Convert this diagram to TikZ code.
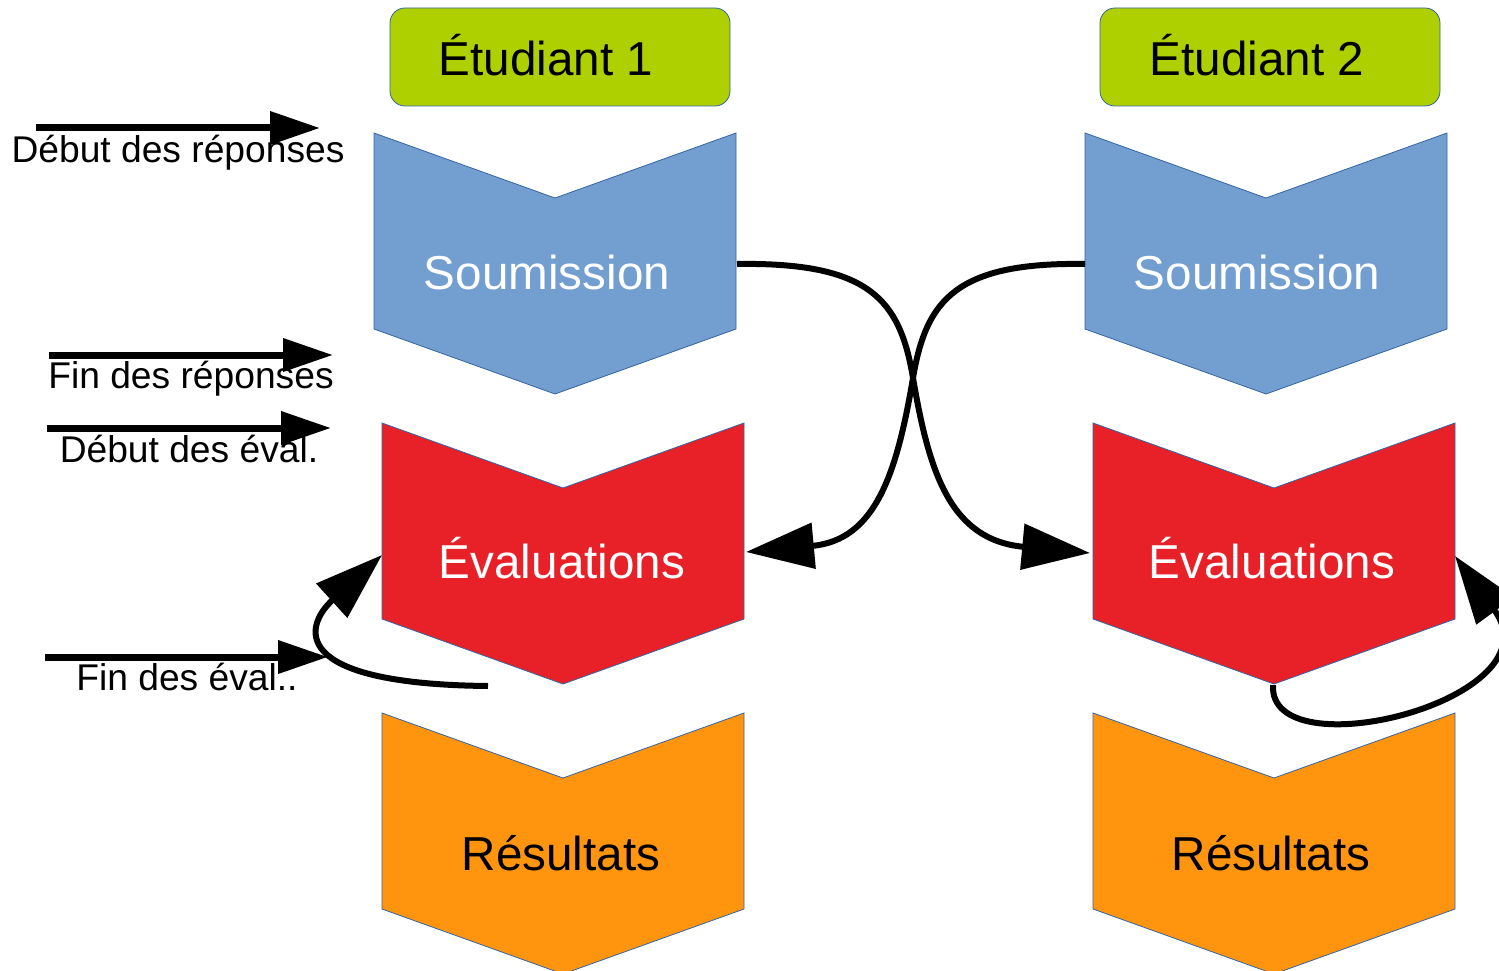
\documentclass[tikz,border=0pt]{standalone}
\usepackage{fontspec}
\setmainfont{Liberation Sans}
\usetikzlibrary{arrows.meta}
\definecolor{etudgreen}{RGB}{175,208,0}
\definecolor{soumblue}{RGB}{114,159,207}
\definecolor{evalred}{RGB}{232,32,40}
\definecolor{resorange}{RGB}{255,149,14}
\definecolor{edgeblue}{RGB}{52,101,164}
\begin{document}
\begin{tikzpicture}[x=1pt,y=-1pt,
    chev/.style={draw=edgeblue,line width=0.8pt},
    etudbox/.style={fill=etudgreen,draw=edgeblue,line width=0.8pt,rounded corners=15pt},
    bigtxt/.style={anchor=base,font=\fontsize{47.6}{56}\selectfont},
    sidetxt/.style={anchor=base,font=\fontsize{37.2}{44}\selectfont},
    timeline/.style={line width=7pt,-{Triangle[length=50pt,width=32pt]}},
    flow/.style={line width=6pt,-{Triangle[length=68pt,width=45pt]}}]
  \useasboundingbox (0,0) rectangle (1499,971);
  \filldraw[etudbox] (390,8) rectangle (730,106);
  \filldraw[etudbox] (1100,8) rectangle (1440,106);
  \filldraw[chev,fill=soumblue] (374,133) -- ++(181,65) -- ++(181,-65) -- ++(0,196) -- ++(-181,65) -- ++(-181,-65) -- cycle;
  \filldraw[chev,fill=evalred] (382,423) -- ++(181,65) -- ++(181,-65) -- ++(0,196) -- ++(-181,65) -- ++(-181,-65) -- cycle;
  \filldraw[chev,fill=resorange] (382,713) -- ++(181,65) -- ++(181,-65) -- ++(0,196) -- ++(-181,65) -- ++(-181,-65) -- cycle;
  \filldraw[chev,fill=soumblue] (1085,133) -- ++(181,65) -- ++(181,-65) -- ++(0,196) -- ++(-181,65) -- ++(-181,-65) -- cycle;
  \filldraw[chev,fill=evalred] (1093,423) -- ++(181,65) -- ++(181,-65) -- ++(0,196) -- ++(-181,65) -- ++(-181,-65) -- cycle;
  \filldraw[chev,fill=resorange] (1093,713) -- ++(181,65) -- ++(181,-65) -- ++(0,196) -- ++(-181,65) -- ++(-181,-65) -- cycle;
  \node[bigtxt] (et1) at (546,76) {Étudiant 1};
  \node[bigtxt] (et2) at (1257,76) {Étudiant 2};
  \node[bigtxt,white] (soum1) at (547,289) {Soumission};
  \node[bigtxt,white] (soum2) at (1257,289) {Soumission};
  \node[bigtxt,white] (eval1) at (562,578) {Évaluations};
  \node[bigtxt,white] (eval2) at (1272,578) {Évaluations};
  \node[bigtxt] (res1) at (561,870) {Résultats};
  \node[bigtxt] (res2) at (1271,870) {Résultats};
  \node[sidetxt] (debrep) at (178,163) {Début des réponses};
  \node[sidetxt] (finrep) at (191,388) {Fin des réponses};
  \node[sidetxt] (debeval) at (189,462) {Début des éval.};
  \node[sidetxt] (fineval) at (187,690) {Fin des éval..};
  \coordinate (t1a) at (36,128);
  \coordinate (t1b) at (320,128);
  \coordinate (t2a) at (49,355);
  \coordinate (t2b) at (333,355);
  \coordinate (t3a) at (47,428);
  \coordinate (t3b) at (331,428);
  \coordinate (t4a) at (45,657);
  \coordinate (t4b) at (328,657);
  \coordinate (s1r) at (737,264);
  \coordinate (s2l) at (1085,264);
  \coordinate (e1r) at (746,552);
  \coordinate (e2l) at (1090,553);
  \coordinate (e1l) at (382,555);
  \coordinate (e2r) at (1455,556);
  \coordinate (e2b) at (1273,685);
  \coordinate (loop1) at (488,686);
  \draw[timeline] (t1a) -- (t1b);
  \draw[timeline] (t2a) -- (t2b);
  \draw[timeline] (t3a) -- (t3b);
  \draw[timeline] (t4a) -- (t4b);
  \draw[flow] (s1r) .. controls (870,262) and (900,300) .. (913,378) .. controls (929,472) and (950,540) .. (e2l);
  \draw[flow] (s2l) .. controls (956,262) and (926,300) .. (913,378) .. controls (897,472) and (876,540) .. (e1r);
  \draw[flow] (loop1) .. controls (285,684) and (305,625) .. (e1l);
  \draw[flow] (e2b) .. controls (1268,772) and (1560,700) .. (e2r);
\end{tikzpicture}
\end{document}
